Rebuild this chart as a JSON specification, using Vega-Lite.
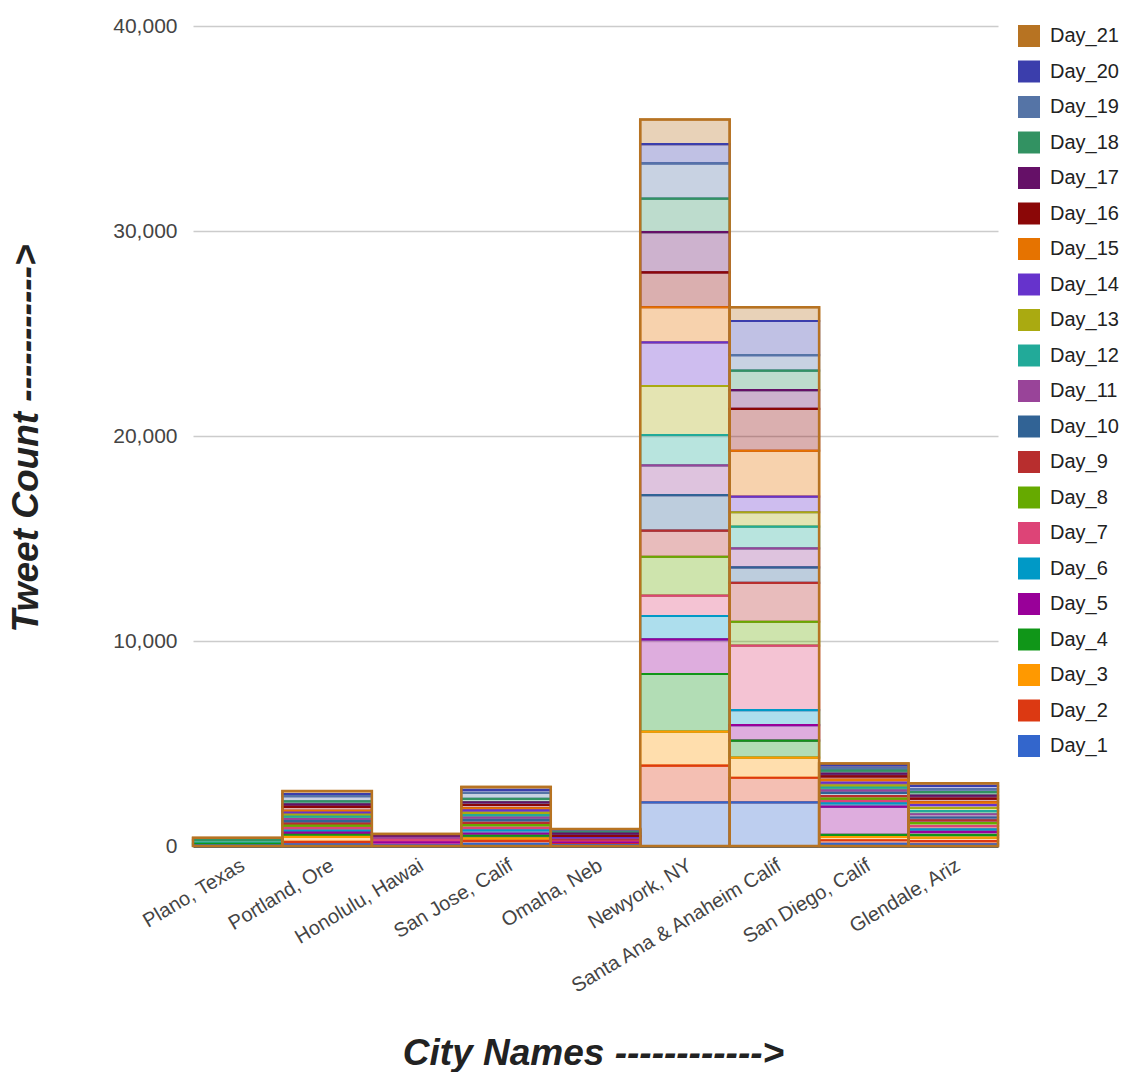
{
"$schema": "https://vega.github.io/schema/vega-lite/v6.json",
"width": 805, "height": 820,
"autosize": {"type": "none"},
"padding": {"left": 193, "top": 26, "right": 126, "bottom": 226},
"background": "white",
"config": {"font": "Liberation Sans", "view": {"stroke": null},
 "axis": {"labelFont": "Liberation Sans", "labelColor": "#444", "titleFont": "Liberation Sans", "titleFontSize": 37, "titleFontWeight": "bold", "titleFontStyle": "italic", "titleColor": "#222", "ticks": false}},
"data": {"values": [
{"c":"Newyork, NY","day":"Day_21","d":21,"n":1200},{"c":"Newyork, NY","day":"Day_20","d":20,"n":940},{"c":"Newyork, NY","day":"Day_19","d":19,"n":1720},{"c":"Newyork, NY","day":"Day_18","d":18,"n":1630},{"c":"Newyork, NY","day":"Day_17","d":17,"n":1970},{"c":"Newyork, NY","day":"Day_16","d":16,"n":1700},{"c":"Newyork, NY","day":"Day_15","d":15,"n":1710},{"c":"Newyork, NY","day":"Day_14","d":14,"n":2130},{"c":"Newyork, NY","day":"Day_13","d":13,"n":2390},{"c":"Newyork, NY","day":"Day_12","d":12,"n":1480},{"c":"Newyork, NY","day":"Day_11","d":11,"n":1450},{"c":"Newyork, NY","day":"Day_10","d":10,"n":1740},{"c":"Newyork, NY","day":"Day_9","d":9,"n":1270},{"c":"Newyork, NY","day":"Day_8","d":8,"n":1900},{"c":"Newyork, NY","day":"Day_7","d":7,"n":990},{"c":"Newyork, NY","day":"Day_6","d":6,"n":1140},{"c":"Newyork, NY","day":"Day_5","d":5,"n":1690},{"c":"Newyork, NY","day":"Day_4","d":4,"n":2810},{"c":"Newyork, NY","day":"Day_3","d":3,"n":1660},{"c":"Newyork, NY","day":"Day_2","d":2,"n":1790},{"c":"Newyork, NY","day":"Day_1","d":1,"n":2130},
{"c":"Santa Ana & Anaheim Calif","day":"Day_21","d":21,"n":670},{"c":"Santa Ana & Anaheim Calif","day":"Day_20","d":20,"n":1660},{"c":"Santa Ana & Anaheim Calif","day":"Day_19","d":19,"n":760},{"c":"Santa Ana & Anaheim Calif","day":"Day_18","d":18,"n":950},{"c":"Santa Ana & Anaheim Calif","day":"Day_17","d":17,"n":920},{"c":"Santa Ana & Anaheim Calif","day":"Day_16","d":16,"n":2040},{"c":"Santa Ana & Anaheim Calif","day":"Day_15","d":15,"n":2240},{"c":"Santa Ana & Anaheim Calif","day":"Day_14","d":14,"n":760},{"c":"Santa Ana & Anaheim Calif","day":"Day_13","d":13,"n":700},{"c":"Santa Ana & Anaheim Calif","day":"Day_12","d":12,"n":1060},{"c":"Santa Ana & Anaheim Calif","day":"Day_11","d":11,"n":930},{"c":"Santa Ana & Anaheim Calif","day":"Day_10","d":10,"n":750},{"c":"Santa Ana & Anaheim Calif","day":"Day_9","d":9,"n":1900},{"c":"Santa Ana & Anaheim Calif","day":"Day_8","d":8,"n":1170},{"c":"Santa Ana & Anaheim Calif","day":"Day_7","d":7,"n":3140},{"c":"Santa Ana & Anaheim Calif","day":"Day_6","d":6,"n":730},{"c":"Santa Ana & Anaheim Calif","day":"Day_5","d":5,"n":760},{"c":"Santa Ana & Anaheim Calif","day":"Day_4","d":4,"n":830},{"c":"Santa Ana & Anaheim Calif","day":"Day_3","d":3,"n":980},{"c":"Santa Ana & Anaheim Calif","day":"Day_2","d":2,"n":1200},{"c":"Santa Ana & Anaheim Calif","day":"Day_1","d":1,"n":2130},
{"c":"Portland, Ore","day":"Day_21","d":21,"n":150},{"c":"Portland, Ore","day":"Day_20","d":20,"n":100},{"c":"Portland, Ore","day":"Day_19","d":19,"n":250},{"c":"Portland, Ore","day":"Day_18","d":18,"n":150},{"c":"Portland, Ore","day":"Day_17","d":17,"n":120},{"c":"Portland, Ore","day":"Day_16","d":16,"n":200},{"c":"Portland, Ore","day":"Day_15","d":15,"n":80},{"c":"Portland, Ore","day":"Day_14","d":14,"n":100},{"c":"Portland, Ore","day":"Day_13","d":13,"n":100},{"c":"Portland, Ore","day":"Day_12","d":12,"n":120},{"c":"Portland, Ore","day":"Day_11","d":11,"n":100},{"c":"Portland, Ore","day":"Day_10","d":10,"n":120},{"c":"Portland, Ore","day":"Day_9","d":9,"n":100},{"c":"Portland, Ore","day":"Day_8","d":8,"n":120},{"c":"Portland, Ore","day":"Day_7","d":7,"n":120},{"c":"Portland, Ore","day":"Day_6","d":6,"n":100},{"c":"Portland, Ore","day":"Day_5","d":5,"n":100},{"c":"Portland, Ore","day":"Day_4","d":4,"n":100},{"c":"Portland, Ore","day":"Day_3","d":3,"n":250},{"c":"Portland, Ore","day":"Day_2","d":2,"n":120},{"c":"Portland, Ore","day":"Day_1","d":1,"n":80},
{"c":"San Jose, Calif","day":"Day_21","d":21,"n":140},{"c":"San Jose, Calif","day":"Day_20","d":20,"n":150},{"c":"San Jose, Calif","day":"Day_19","d":19,"n":290},{"c":"San Jose, Calif","day":"Day_18","d":18,"n":170},{"c":"San Jose, Calif","day":"Day_17","d":17,"n":130},{"c":"San Jose, Calif","day":"Day_16","d":16,"n":160},{"c":"San Jose, Calif","day":"Day_15","d":15,"n":100},{"c":"San Jose, Calif","day":"Day_14","d":14,"n":120},{"c":"San Jose, Calif","day":"Day_13","d":13,"n":110},{"c":"San Jose, Calif","day":"Day_12","d":12,"n":130},{"c":"San Jose, Calif","day":"Day_11","d":11,"n":120},{"c":"San Jose, Calif","day":"Day_10","d":10,"n":130},{"c":"San Jose, Calif","day":"Day_9","d":9,"n":110},{"c":"San Jose, Calif","day":"Day_8","d":8,"n":140},{"c":"San Jose, Calif","day":"Day_7","d":7,"n":120},{"c":"San Jose, Calif","day":"Day_6","d":6,"n":150},{"c":"San Jose, Calif","day":"Day_5","d":5,"n":110},{"c":"San Jose, Calif","day":"Day_4","d":4,"n":130},{"c":"San Jose, Calif","day":"Day_3","d":3,"n":120},{"c":"San Jose, Calif","day":"Day_2","d":2,"n":150},{"c":"San Jose, Calif","day":"Day_1","d":1,"n":100},
{"c":"San Diego, Calif","day":"Day_21","d":21,"n":100},{"c":"San Diego, Calif","day":"Day_20","d":20,"n":140},{"c":"San Diego, Calif","day":"Day_19","d":19,"n":110},{"c":"San Diego, Calif","day":"Day_18","d":18,"n":150},{"c":"San Diego, Calif","day":"Day_17","d":17,"n":130},{"c":"San Diego, Calif","day":"Day_16","d":16,"n":170},{"c":"San Diego, Calif","day":"Day_15","d":15,"n":140},{"c":"San Diego, Calif","day":"Day_14","d":14,"n":130},{"c":"San Diego, Calif","day":"Day_13","d":13,"n":110},{"c":"San Diego, Calif","day":"Day_12","d":12,"n":140},{"c":"San Diego, Calif","day":"Day_11","d":11,"n":120},{"c":"San Diego, Calif","day":"Day_10","d":10,"n":150},{"c":"San Diego, Calif","day":"Day_9","d":9,"n":130},{"c":"San Diego, Calif","day":"Day_8","d":8,"n":120},{"c":"San Diego, Calif","day":"Day_7","d":7,"n":110},{"c":"San Diego, Calif","day":"Day_6","d":6,"n":160},{"c":"San Diego, Calif","day":"Day_5","d":5,"n":1380},{"c":"San Diego, Calif","day":"Day_4","d":4,"n":100},{"c":"San Diego, Calif","day":"Day_3","d":3,"n":160},{"c":"San Diego, Calif","day":"Day_2","d":2,"n":180},{"c":"San Diego, Calif","day":"Day_1","d":1,"n":100},
{"c":"Glendale, Ariz","day":"Day_21","d":21,"n":130},{"c":"Glendale, Ariz","day":"Day_20","d":20,"n":170},{"c":"Glendale, Ariz","day":"Day_19","d":19,"n":130},{"c":"Glendale, Ariz","day":"Day_18","d":18,"n":170},{"c":"Glendale, Ariz","day":"Day_17","d":17,"n":150},{"c":"Glendale, Ariz","day":"Day_16","d":16,"n":180},{"c":"Glendale, Ariz","day":"Day_15","d":15,"n":130},{"c":"Glendale, Ariz","day":"Day_14","d":14,"n":140},{"c":"Glendale, Ariz","day":"Day_13","d":13,"n":160},{"c":"Glendale, Ariz","day":"Day_12","d":12,"n":150},{"c":"Glendale, Ariz","day":"Day_11","d":11,"n":160},{"c":"Glendale, Ariz","day":"Day_10","d":10,"n":140},{"c":"Glendale, Ariz","day":"Day_9","d":9,"n":130},{"c":"Glendale, Ariz","day":"Day_8","d":8,"n":150},{"c":"Glendale, Ariz","day":"Day_7","d":7,"n":160},{"c":"Glendale, Ariz","day":"Day_6","d":6,"n":120},{"c":"Glendale, Ariz","day":"Day_5","d":5,"n":150},{"c":"Glendale, Ariz","day":"Day_4","d":4,"n":130},{"c":"Glendale, Ariz","day":"Day_3","d":3,"n":170},{"c":"Glendale, Ariz","day":"Day_2","d":2,"n":160},{"c":"Glendale, Ariz","day":"Day_1","d":1,"n":80},
{"c":"Plano, Texas","day":"Day_21","d":21,"n":100},{"c":"Plano, Texas","day":"Day_18","d":18,"n":130},{"c":"Plano, Texas","day":"Day_12","d":12,"n":60},{"c":"Plano, Texas","day":"Day_4","d":4,"n":80},{"c":"Plano, Texas","day":"Day_1","d":1,"n":30},
{"c":"Honolulu, Hawai","day":"Day_21","d":21,"n":30},{"c":"Honolulu, Hawai","day":"Day_20","d":20,"n":50},{"c":"Honolulu, Hawai","day":"Day_17","d":17,"n":110},{"c":"Honolulu, Hawai","day":"Day_11","d":11,"n":100},{"c":"Honolulu, Hawai","day":"Day_7","d":7,"n":120},{"c":"Honolulu, Hawai","day":"Day_5","d":5,"n":150},{"c":"Honolulu, Hawai","day":"Day_1","d":1,"n":30},
{"c":"Omaha, Neb","day":"Day_21","d":21,"n":50},{"c":"Omaha, Neb","day":"Day_20","d":20,"n":70},{"c":"Omaha, Neb","day":"Day_19","d":19,"n":50},{"c":"Omaha, Neb","day":"Day_18","d":18,"n":60},{"c":"Omaha, Neb","day":"Day_17","d":17,"n":120},{"c":"Omaha, Neb","day":"Day_16","d":16,"n":90},{"c":"Omaha, Neb","day":"Day_14","d":14,"n":60},{"c":"Omaha, Neb","day":"Day_11","d":11,"n":60},{"c":"Omaha, Neb","day":"Day_9","d":9,"n":50},{"c":"Omaha, Neb","day":"Day_7","d":7,"n":60},{"c":"Omaha, Neb","day":"Day_5","d":5,"n":80},{"c":"Omaha, Neb","day":"Day_2","d":2,"n":40},{"c":"Omaha, Neb","day":"Day_1","d":1,"n":40}
]},
"encoding": {
 "x": {"field": "c", "type": "nominal", "title": "City Names ------------>",
  "sort": ["Plano, Texas","Portland, Ore","Honolulu, Hawai","San Jose, Calif","Omaha, Neb","Newyork, NY","Santa Ana & Anaheim Calif","San Diego, Calif","Glendale, Ariz"],
  "scale": {"paddingInner": 0, "paddingOuter": 0},
  "axis": {"labelAngle": -31, "labelFontSize": 20, "labelLimit": 500, "labelPadding": 9, "labelAlign": "right", "labelBaseline": "top", "domainColor": "#333", "domainWidth": 2.5, "grid": false, "titleX": 400, "titleY": 218, "titleAlign": "center", "titleBaseline": "alphabetic"}}
},
"layer": [
 {"mark": {"type": "bar", "fillOpacity": 0.32, "strokeWidth": 2.2},
  "encoding": {
   "y": {"field": "n", "type": "quantitative", "stack": "zero", "title": "Tweet Count ----------->",
    "scale": {"domain": [0, 40000]},
    "axis": {"values": [0, 10000, 20000, 30000, 40000], "format": ",.0f", "domain": false, "gridColor": "#cccccc", "gridWidth": 1.5, "labelFontSize": 21, "labelPadding": 16, "titleX": -148, "titleY": 412, "titleAngle": -90, "titleAlign": "center", "titleBaseline": "bottom"}},
   "color": {"field": "day", "type": "nominal",
    "scale": {"domain": ["Day_21","Day_20","Day_19","Day_18","Day_17","Day_16","Day_15","Day_14","Day_13","Day_12","Day_11","Day_10","Day_9","Day_8","Day_7","Day_6","Day_5","Day_4","Day_3","Day_2","Day_1"],
     "range": ["#b77322","#3b3eac","#5574a6","#329262","#651067","#8b0707","#e67300","#6633cc","#aaaa11","#22aa99","#994499","#316395","#b82e2e","#66aa00","#dd4477","#0099c6","#990099","#109618","#ff9900","#dc3912","#3366cc"]},
    "legend": {"title": null, "orient": "none", "legendX": 825, "legendY": -1, "padding": 0, "symbolType": "square", "symbolSize": 484, "symbolStrokeWidth": 0, "symbolOpacity": 1, "labelFontSize": 20, "labelFont": "Liberation Sans", "labelColor": "#222", "labelOffset": 10, "rowPadding": 13.5,
     "encode": {"symbols": {"update": {"fillOpacity": {"value": 1}, "strokeWidth": {"value": 0}}}}}},
   "stroke": {"field": "day", "type": "nominal", "legend": null,
    "scale": {"domain": ["Day_21","Day_20","Day_19","Day_18","Day_17","Day_16","Day_15","Day_14","Day_13","Day_12","Day_11","Day_10","Day_9","Day_8","Day_7","Day_6","Day_5","Day_4","Day_3","Day_2","Day_1"],
     "range": ["#b77322","#3b3eac","#5574a6","#329262","#651067","#8b0707","#e67300","#6633cc","#aaaa11","#22aa99","#994499","#316395","#b82e2e","#66aa00","#dd4477","#0099c6","#990099","#109618","#ff9900","#dc3912","#3366cc"]}},
   "order": {"field": "d", "type": "quantitative", "sort": "ascending"}
  }},
 {"mark": {"type": "bar", "fillOpacity": 0, "stroke": "#b77322", "strokeWidth": 2.5},
  "encoding": {
   "y": {"aggregate": "sum", "field": "n", "type": "quantitative", "title": "Tweet Count ----------->",
    "axis": {"values": [0, 10000, 20000, 30000, 40000], "format": ",.0f", "domain": false, "gridColor": "#cccccc", "gridWidth": 1.5, "labelFontSize": 21, "labelPadding": 16, "titleX": -148, "titleY": 412, "titleAngle": -90, "titleAlign": "center", "titleBaseline": "bottom"}}
  }}
]
}
